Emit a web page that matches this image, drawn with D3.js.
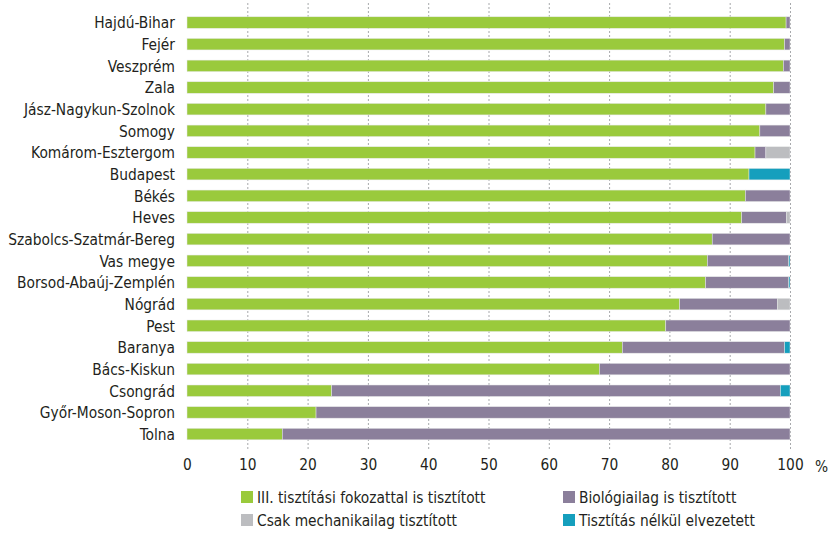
<!DOCTYPE html>
<html><head><meta charset="utf-8">
<script src="https://cdn.jsdelivr.net/npm/d3@7"></script>
<style>
body{margin:0;background:#fff;}
text{font-family:"Liberation Sans Narrow","Arial Narrow","DejaVu Sans Condensed",sans-serif;fill:#231f20;}
</style></head>
<body><svg id="c" width="831" height="539"></svg>
<script>
const categories = ["Hajdú-Bihar","Fejér","Veszprém","Zala","Jász-Nagykun-Szolnok","Somogy","Komárom-Esztergom","Budapest","Békés","Heves","Szabolcs-Szatmár-Bereg","Vas megye","Borsod-Abaúj-Zemplén","Nógrád","Pest","Baranya","Bács-Kiskun","Csongrád","Győr-Moson-Sopron","Tolna"];
const seriesNames = ["III. tisztítási fokozattal is tisztított","Biológiailag is tisztított","Csak mechanikailag tisztított","Tisztítás nélkül elvezetett"];
const tertiary   = [99.35,99.1,98.9,97.3,96.0,95.0,94.2,93.2,92.6,92.0,87.1,86.3,86.0,81.7,79.4,72.2,68.4,24.0,21.4,15.8];
const biological = [0.65,0.9,1.1,2.7,4.0,5.0,1.8,0,7.4,7.4,12.9,13.5,13.8,16.2,20.6,26.9,31.6,74.4,78.6,84.2];
const mechanical = [0,0,0,0,0,0,4.0,0,0,0.6,0,0,0,2.1,0,0,0,0,0,0];
const untreated  = [0,0,0,0,0,0,0,6.8,0,0,0,0.2,0.2,0,0,0.9,0,1.6,0,0];
const xTicks = [0,10,20,30,40,50,60,70,80,90,100];
const colors = ["#9aca3c","#8b7f9b","#bcbdc0","#159fbd"];

const svg = d3.select("#c");
const x = d3.scaleLinear().domain([0,100]).range([187,790]);
const y = d3.scaleBand().domain(categories).range([11.7,444.9]).paddingInner(0.47).paddingOuter(0.235);

// grid
svg.append("g").selectAll("line").data(xTicks.filter(d=>d>0)).join("line")
  .attr("x1",d=>x(d)+0.5).attr("x2",d=>x(d)+0.5).attr("y1",3).attr("y2",450)
  .attr("stroke","#a7a9ac").attr("stroke-width",1).attr("stroke-dasharray","2,2");

const rows = categories.map((c,i)=>({cat:c, vals:[tertiary[i],biological[i],mechanical[i],untreated[i]]}));
const stack = d3.stack().keys([0,1,2,3]).value((d,k)=>d.vals[k]);
const stacked = stack(rows);

svg.append("g").selectAll("g").data(stacked).join("g")
  .attr("fill",(d,i)=>colors[i])
  .selectAll("rect").data(d=>d.filter(p=>p[1]-p[0]>0)).join("rect")
  .attr("x",p=>x(p[0])).attr("width",p=>x(p[1])-x(p[0]))
  .attr("y",p=>y(p.data.cat)).attr("height",y.bandwidth())
  .attr("stroke","#e6e7e8").attr("stroke-width",0.5);

const SX = 0.93;
// category labels
const yAxis = svg.append("g").attr("transform","translate(175,0)")
  .call(d3.axisLeft(y).tickSize(0).tickPadding(0));
yAxis.select(".domain").remove();
yAxis.selectAll("text").attr("font-size",16.5).attr("x",0).attr("dy","0.36em")
  .attr("transform",`scale(${SX},1)`);

// x axis labels
const xAxis = svg.append("g").attr("transform","translate(0,458)")
  .call(d3.axisBottom(x).tickValues(xTicks).tickSize(0).tickPadding(0));
xAxis.select(".domain").remove();
xAxis.selectAll("text").attr("font-size",16.5).attr("dy","0.71em").attr("transform",`scale(${SX},1)`);
svg.append("text").attr("transform",`translate(${x(100)+25},466) scale(${SX},1)`).attr("dy","0.36em")
  .attr("text-anchor","start").attr("font-size",16.5).text("%");

// legend
const legPos = [[241,497],[563,497],[241,520],[563,520]];
const leg = svg.append("g").selectAll("g").data(seriesNames).join("g")
  .attr("transform",(d,i)=>`translate(${legPos[i][0]},${legPos[i][1]})`);
leg.append("rect").attr("x",0).attr("y",-6).attr("width",12).attr("height",12).attr("fill",(d,i)=>colors[i]);
leg.append("text").attr("transform",`translate(16,0) scale(${SX},1)`).attr("dy","0.36em").attr("font-size",16.5).text(d=>d);
</script></body></html>
